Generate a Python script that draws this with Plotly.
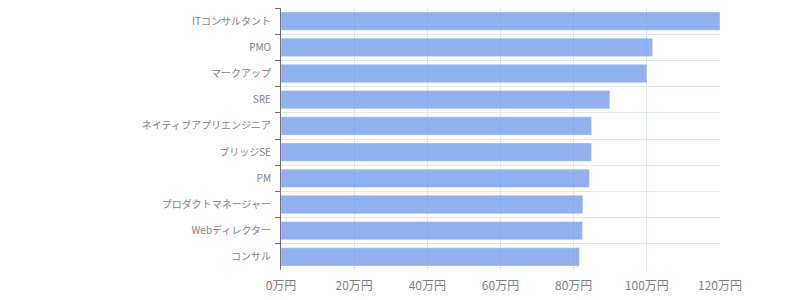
import plotly.graph_objects as go

categories = ["ITコンサルタント", "PMO", "マークアップ", "SRE", "ネイティブアプリエンジニア",
              "ブリッジSE", "PM", "プロダクトマネージャー", "Webディレクター", "コンサル"]
values = [120, 101.6, 100, 89.9, 84.9, 84.9, 84.3, 82.5, 82.4, 81.6]
x_tickvals = [0, 20, 40, 60, 80, 100, 120]
x_ticktext = ["0万円", "20万円", "40万円", "60万円", "80万円", "100万円", "120万円"]

FONT = "Noto Sans CJK JP, Noto Sans, sans-serif"
GRID = "#dfe5f2"
TEXT = "#7c7e86"

fig = go.Figure(go.Bar(
    y=categories, x=values, orientation="h",
    marker=dict(color="rgb(120,160,235)", opacity=0.82,
                line=dict(color="rgba(255,255,255,0.35)", width=1)),
    width=0.7,
    hoverinfo="x+y",
))

fig.update_layout(
    width=800, height=300,
    margin=dict(l=281, r=80, t=8, b=30),
    paper_bgcolor="white", plot_bgcolor="white",
    font=dict(family=FONT, color=TEXT),
    showlegend=False,
    xaxis=dict(range=[0, 120], tickvals=x_tickvals, ticktext=x_ticktext,
               showgrid=True, gridcolor=GRID, gridwidth=1,
               zeroline=False, showline=False, ticks="",
               tickfont=dict(size=12, color=TEXT), ticklabelstandoff=7),
    yaxis=dict(type="category", categoryorder="array", categoryarray=categories,
               autorange="reversed", tickson="boundaries",
               showgrid=True, gridcolor=GRID, gridwidth=1,
               showline=True, linecolor="#6e7079", linewidth=1,
               ticks="outside", ticklen=5, tickcolor="#6e7079",
               tickfont=dict(size=10, color=TEXT), ticklabelstandoff=7),
)

fig.write_html("out.html")
